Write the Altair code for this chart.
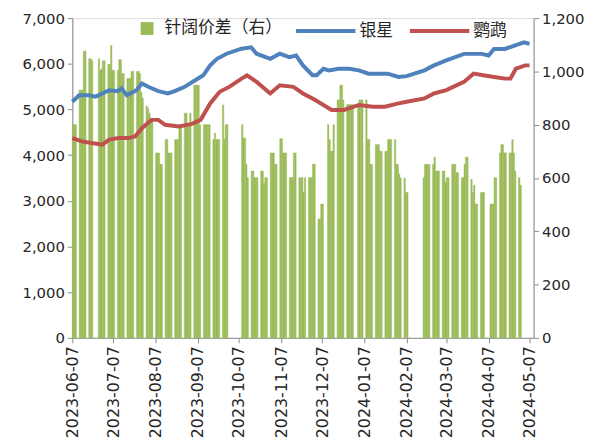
import datetime as dt
import altair as alt
import pandas as pd

# ---------------- data ----------------
# softwood–hardwood pulp spread (right axis), daily values Mon..Fri per week (None = no quote)
spread_week_mondays = [
    "2023-06-05", "2023-06-12", "2023-06-19", "2023-06-26", "2023-07-03", "2023-07-10",
    "2023-07-17", "2023-07-24", "2023-07-31", "2023-08-07", "2023-08-14", "2023-08-21",
    "2023-08-28", "2023-09-04", "2023-09-11", "2023-09-18", "2023-09-25", "2023-10-09",
    "2023-10-16", "2023-10-23", "2023-10-30", "2023-11-06", "2023-11-13", "2023-11-20",
    "2023-11-27", "2023-12-04", "2023-12-11", "2023-12-18", "2023-12-25", "2024-01-01",
    "2024-01-08", "2024-01-15", "2024-01-22", "2024-01-29", "2024-02-05", "2024-02-19",
    "2024-02-26", "2024-03-04", "2024-03-11", "2024-03-18", "2024-03-25", "2024-04-01",
    "2024-04-08", "2024-04-15", "2024-04-22", "2024-04-29",
]
spread_week_values = [
    [None, None, 800, 800, 800], [930, 930, 930, 1076, 1076], [1047, 1047, 1040, None, None],
    [1047, 1004, 1010, 1040, 1040], [1026, 1026, 1097, 1004, 1004], [1004, 1044, 1044, 992, 992],
    [973, 973, 973, 1000, 1000], [1000, 1000, 992, 923, 900], [870, 861, 843, 824, 824],
    [694, 694, 694, 651, 651], [744, 744, 694, 694, 694], [744, 744, 744, 793, 793],
    [843, 843, 793, 793, 843], [948, 948, 948, 948, 800], [800, 800, 800, 800, 800],
    [744, 768, 744, 744, 744], [874, 744, 800, 800, None], [800, 750, 750, 652, 601],
    [626, 626, 601, 601, 601], [626, 626, 579, 601, 601], [694, 694, 694, 652, 652],
    [747, 747, 694, 694, 694], [601, 601, 601, 694, 694], [601, 601, 601, 545, 601],
    [601, 601, 601, 652, 652], [446, 446, 502, 502, None], [800, 744, 700, 700, 800],
    [893, 893, 948, 948, 893], [875, 875, 875, 875, 875], [None, 875, 893, 893, 893],
    [893, 744, 744, 651, 651], [725, 725, 725, 700, 700], [700, 700, 744, 744, 744],
    [744, 651, 651, 615, 600], [600, 545, 545, None, None], [601, 651, 651, 651, 651],
    [651, 678, 626, 626, 626], [626, 626, 582, 601, 601], [651, 651, 651, 620, 620],
    [601, 601, 651, 678, 678], [595, 545, 573, 502, 502], [545, 545, 545, None, None],
    [502, 502, 502, 601, 601], [694, 725, 725, 694, 694], [694, 694, 744, 694, 626],
    [601, 573, None, None, None],
]

# 银星 (left axis)
yinxing_dates = [
    "2023-06-07", "2023-06-12", "2023-06-19", "2023-06-24", "2023-06-29", "2023-07-04",
    "2023-07-10", "2023-07-13", "2023-07-17", "2023-07-24", "2023-07-28", "2023-08-02",
    "2023-08-09", "2023-08-16", "2023-08-21", "2023-08-28", "2023-09-05", "2023-09-11",
    "2023-09-16", "2023-09-21", "2023-09-28", "2023-10-09", "2023-10-16", "2023-10-20",
    "2023-10-30", "2023-11-06", "2023-11-13", "2023-11-18", "2023-11-23", "2023-11-30",
    "2023-12-03", "2023-12-08", "2023-12-12", "2023-12-19", "2023-12-27", "2024-01-03",
    "2024-01-10", "2024-01-17", "2024-01-24", "2024-02-01", "2024-02-07", "2024-02-20",
    "2024-02-27", "2024-03-07", "2024-03-20", "2024-04-02", "2024-04-07", "2024-04-11",
    "2024-04-19", "2024-04-26", "2024-05-03", "2024-05-07",
]
yinxing_values = [
    5170, 5310, 5310, 5280, 5350, 5420, 5400, 5460, 5310, 5420, 5570, 5490,
    5400, 5350, 5400, 5490, 5640, 5750, 5965, 6110, 6220, 6330, 6360, 6220,
    6110, 6220, 6145, 6180, 5965, 5750, 5750, 5890, 5856, 5890, 5890, 5856,
    5784, 5784, 5784, 5711, 5730, 5856, 5965, 6074, 6217, 6217, 6182, 6325,
    6325, 6399, 6471, 6434,
]

# 鹦鹉 (left axis)
yingwu_dates = [
    "2023-06-07", "2023-06-14", "2023-06-21", "2023-06-29", "2023-07-04", "2023-07-11",
    "2023-07-18", "2023-07-23", "2023-07-28", "2023-08-04", "2023-08-09", "2023-08-14",
    "2023-08-24", "2023-09-02", "2023-09-09", "2023-09-16", "2023-09-23", "2023-09-30",
    "2023-10-09", "2023-10-13", "2023-10-20", "2023-10-30", "2023-11-06", "2023-11-16",
    "2023-11-23", "2023-12-02", "2023-12-14", "2023-12-23", "2024-01-03", "2024-01-13",
    "2024-01-22", "2024-02-01", "2024-02-07", "2024-02-20", "2024-02-27", "2024-03-07",
    "2024-03-20", "2024-03-27", "2024-04-03", "2024-04-11", "2024-04-19", "2024-04-23",
    "2024-04-27", "2024-05-04", "2024-05-07",
]
yingwu_values = [
    4373, 4300, 4265, 4230, 4340, 4373, 4373, 4410, 4590, 4772, 4772, 4664,
    4627, 4677, 4772, 5132, 5386, 5494, 5675, 5748, 5603, 5350, 5531, 5494,
    5350, 5206, 4990, 4990, 5098, 5061, 5061, 5132, 5170, 5241, 5350, 5423,
    5603, 5784, 5748, 5711, 5675, 5675, 5892, 5965, 5965,
]

x_tick_dates = [
    "2023-06-07", "2023-07-07", "2023-08-07", "2023-09-07", "2023-10-07", "2023-11-07",
    "2023-12-07", "2024-01-07", "2024-02-07", "2024-03-07", "2024-04-07", "2024-05-07",
]
left_ticks = [0, 1000, 2000, 3000, 4000, 5000, 6000, 7000]
right_ticks = [0, 200, 400, 600, 800, 1000, 1200]

SPREAD_NAME = "针阔价差（右）"
LINE_NAMES = ["银星", "鹦鹉"]
GREEN, BLUE, RED = "#9BBB59", "#4F81BD", "#C0504D"
AXIS_GRAY = "#8C8C8C"
TEXT = "#262626"
NUM_FONT = "DejaVu Sans"
CJK_FONT = "Noto Sans CJK SC"

# ---------------- build tables ----------------
bar_rows = []
for monday, vals in zip(spread_week_mondays, spread_week_values):
    m = dt.date.fromisoformat(monday)
    for i, v in enumerate(vals):
        if v is None:
            continue
        d = m + dt.timedelta(days=i)
        bar_rows.append({
            "date": d.isoformat(),
            "date_end": (d + dt.timedelta(days=1)).isoformat(),
            "spread": v,
            "series": SPREAD_NAME,
        })
bar_df = pd.DataFrame(bar_rows)

line_df = pd.concat([
    pd.DataFrame({"date": yinxing_dates, "price": yinxing_values, "series": LINE_NAMES[0]}),
    pd.DataFrame({"date": yingwu_dates, "price": yingwu_values, "series": LINE_NAMES[1]}),
], ignore_index=True)


def dtobj(s):
    d = dt.date.fromisoformat(s)
    return alt.DateTime(year=d.year, month=d.month, date=d.day, utc=True)


x_scale = alt.Scale(type="utc", domain=[dtobj("2023-06-07"), dtobj("2024-05-10")], nice=False)
x_axis = alt.Axis(
    values=[dtobj(s) for s in x_tick_dates], format="%Y-%m-%d", labelAngle=270,
    labelFont=NUM_FONT, labelFontSize=16, labelColor=TEXT, labelPadding=3,
    domainColor=AXIS_GRAY, tickColor=AXIS_GRAY, tickSize=5, grid=False, title=None,
    labelOverlap=False, labelFlush=False,
)


def y_axis(orient, vals):
    return alt.Axis(orient=orient, values=vals, format=",.0f",
                    labelFont=NUM_FONT, labelFontSize=15, labelColor=TEXT,
                    domainColor=AXIS_GRAY, tickColor=AXIS_GRAY, tickSize=5,
                    grid=False, title=None, labelPadding=3)


bars = alt.Chart(bar_df).mark_bar(opacity=1, stroke=GREEN, strokeWidth=0.5).encode(
    x=alt.X("date:T", scale=x_scale, axis=x_axis),
    x2="date_end:T",
    y=alt.Y("spread:Q", scale=alt.Scale(domain=[0, 1200], nice=False), axis=y_axis("right", right_ticks)),
    y2=alt.datum(0),
    fill=alt.Fill("series:N", scale=alt.Scale(domain=[SPREAD_NAME], range=[GREEN]),
                  legend=alt.Legend(orient="none", legendX=67, legendY=2, title=None,
                                    symbolType="square", symbolSize=169, symbolStrokeWidth=0,
                                    labelFont=CJK_FONT, labelFontSize=17, labelColor=TEXT,
                                    labelOffset=9)),
)

lines = alt.Chart(line_df).mark_line(strokeWidth=4, interpolate="linear").encode(
    x=alt.X("date:T", scale=x_scale, axis=x_axis),
    y=alt.Y("price:Q", scale=alt.Scale(domain=[0, 7000], nice=False), axis=y_axis("left", left_ticks)),
    stroke=alt.Stroke("series:N", scale=alt.Scale(domain=LINE_NAMES, range=[BLUE, RED]),
                      legend=alt.Legend(orient="none", legendX=224, legendY=-19, title=None,
                                        direction="horizontal", symbolType="stroke",
                                        symbolSize=3600, symbolStrokeWidth=4,
                                        labelFont=CJK_FONT, labelFontSize=17, labelColor=TEXT,
                                        labelOffset=2, columnPadding=9)),
)

chart = alt.layer(bars, lines).resolve_scale(
    y="independent", fill="independent", stroke="independent"
).properties(
    width=466, height=323,
    autosize=alt.AutoSizeParams(type="none"),
    padding={"left": 65, "top": 8, "right": 60, "bottom": 100},
).configure_view(stroke=None).configure(background="white")

chart.save("out.html", embed_options={"renderer": "svg", "actions": False})
